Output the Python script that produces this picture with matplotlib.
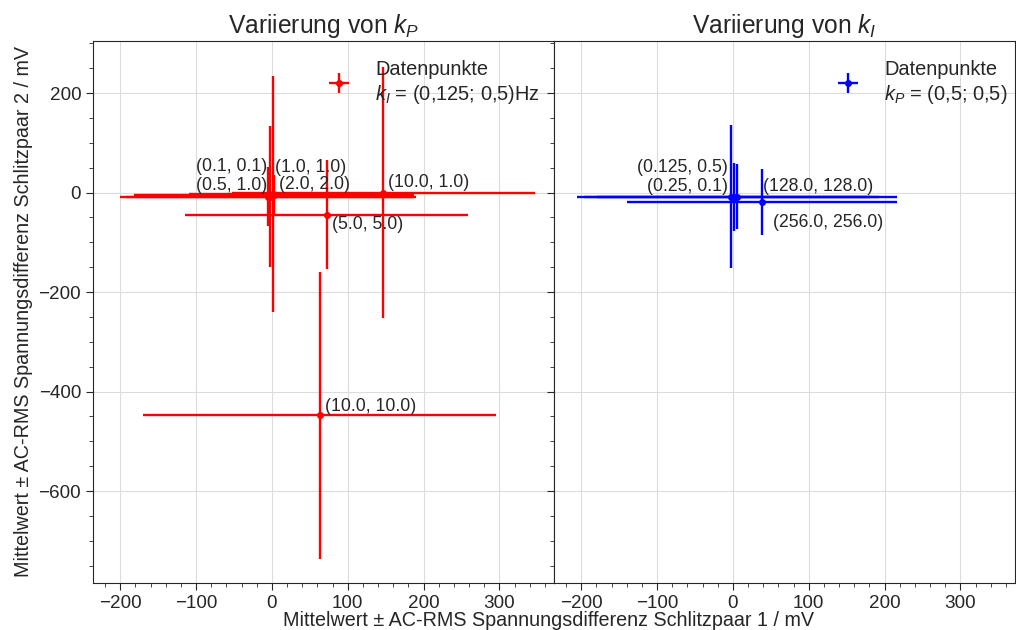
import numpy as np
import matplotlib
matplotlib.use("Agg")
import matplotlib.pyplot as plt
from matplotlib.ticker import AutoMinorLocator

# Variierung von k_P (rot)
kp_labels = ["(0.1, 0.1)", "(0.5, 1.0)", "(1.0, 1.0)", "(2.0, 2.0)",
             "(5.0, 5.0)", "(10.0, 1.0)", "(10.0, 10.0)"]
kp_x = [-3, -5, 2, 3, 72, 147, 63]
kp_y = [-8, -8, -3, -5, -44, 0, -448]
kp_xerr = [190, 195, 112, 185, 186, 200, 233]
kp_yerr = [142, 60, 238, 40, 110, 253, 288]

# Variierung von k_I (blau)
ki_labels = ["(0.125, 0.5)", "(0.25, 0.1)", "(128.0, 128.0)", "(256.0, 256.0)"]
ki_x = [-2, 1, 6, 38]
ki_y = [-8, -9, -8, -19]
ki_xerr = [195, 180, 211, 178]
ki_yerr = [143, 69, 66, 67]

# Textversatz der Beschriftungen (Pixel)
kp_offs = [(-2, 30, "right"), (-1, 11, "right"), (2, 27, "left"), (5, 11, "left"),
           (5, -10, "left"), (5, 10, "left"), (5, 9, "left")]
ki_offs = [(-4, 29, "right"), (-6, 11, "right"), (26, 10, "left"), (11, -20, "left")]

txt = "#262626"
plt.rcParams["font.family"] = ["Liberation Sans", "DejaVu Sans"]
plt.rcParams["mathtext.fontset"] = "custom"
plt.rcParams["mathtext.rm"] = "Liberation Sans"
plt.rcParams["mathtext.it"] = "Liberation Sans:italic"
plt.rcParams["text.color"] = txt
plt.rcParams["axes.labelcolor"] = txt
plt.rcParams["xtick.color"] = txt
plt.rcParams["ytick.color"] = txt
plt.rcParams["axes.edgecolor"] = txt

fig, (ax1, ax2) = plt.subplots(1, 2, figsize=(10.16, 6.3), dpi=100, sharex=True, sharey=True)
fig.subplots_adjust(left=0.0915, right=0.999, top=0.935, bottom=0.0746, wspace=0)

def draw(ax, x, y, xerr, yerr, labels, offs, color, leg, title, leg_x):
    ax.errorbar(x, y, xerr=xerr, yerr=yerr, fmt="o", color=color, ms=4,
                elinewidth=1.7, capsize=0, label=leg)
    for xi, yi, lab, (dx, dy, ha) in zip(x, y, labels, offs):
        ax.annotate(lab, (xi, yi), xytext=(dx, dy), textcoords="offset pixels",
                    ha=ha, va="center", fontsize=12.7, color=txt)
    ax.set_title(title, fontsize=17.7, color=txt)
    ax.grid(True, color="#dcdcdc", linewidth=0.8)
    ax.set_axisbelow(True)
    ax.xaxis.set_minor_locator(AutoMinorLocator())
    ax.yaxis.set_minor_locator(AutoMinorLocator())
    ax.tick_params(which="major", length=5, labelsize=13.6)
    ax.tick_params(which="minor", length=3)
    lg = ax.legend(loc="upper left", bbox_to_anchor=(leg_x, 0.98), frameon=False,
                   fontsize=14.4, handlelength=1.1, handletextpad=1.25, borderaxespad=0)
    for t in lg.get_texts():
        t.set_linespacing(1.25)

draw(ax1, kp_x, kp_y, kp_xerr, kp_yerr, kp_labels, kp_offs, "red",
     "Datenpunkte\n$k_I$ = (0,125; 0,5)Hz", "Variierung von $k_P$", 0.4925)
draw(ax2, ki_x, ki_y, ki_xerr, ki_yerr, ki_labels, ki_offs, "blue",
     "Datenpunkte\n$k_P$ = (0,5; 0,5)", "Variierung von $k_I$", 0.597)

ax1.set_xlim(-236, 372)
ax1.set_ylim(-785, 305)
ax1.set_xticks([-200, -100, 0, 100, 200, 300])
ax1.set_yticks([-600, -400, -200, 0, 200])
ax1.set_ylabel("Mittelwert ± AC-RMS Spannungsdifferenz Schlitzpaar 2 / mV", fontsize=14.2)
ax2.tick_params(labelleft=False)
fig.text(0.54, 0.0, "Mittelwert ± AC-RMS Spannungsdifferenz Schlitzpaar 1 / mV",
         ha="center", va="bottom", fontsize=14.2, color=txt)

fig.savefig("out.png", dpi=100)
